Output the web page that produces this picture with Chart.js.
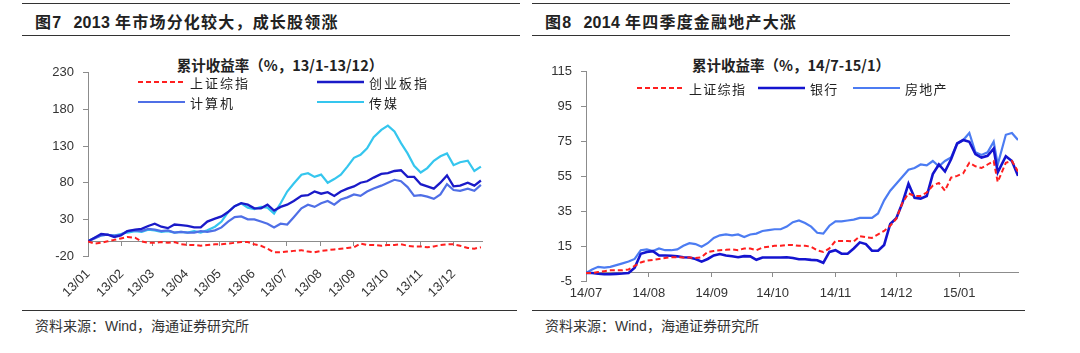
<!DOCTYPE html>
<html>
<head>
<meta charset="utf-8">
<script src="https://cdn.jsdelivr.net/npm/chart.js@4.4.1/dist/chart.umd.min.js"></script>
<style>
  body { margin: 0; width: 1080px; height: 353px; background: #fff; position: relative; overflow: hidden;
         font-family: "Noto Sans CJK SC", sans-serif; color: #222; }
  .rule { position: absolute; border-top: 1.3px solid #333; height: 0; }
  .head { position: absolute; top: 9px; font-size: 16px; font-weight: bold; white-space: nowrap; letter-spacing: 1.2px; }
  .head b { font-family: Arial, "Liberation Sans", sans-serif; letter-spacing: 0.3px; }
  .head .gap { display: inline-block; width: 12px; }
  .ctitle { position: absolute; top: 54px; font-size: 14.5px; font-weight: bold; transform: translateX(-50%); white-space: nowrap; }
  .src { position: absolute; top: 315px; font-size: 14px; white-space: nowrap; color: #333; }
  .src i { font-style: normal; font-family: Arial, "Liberation Sans", sans-serif; }
  .lg { position: absolute; display: flex; align-items: center; height: 16px; font-size: 13px; white-space: nowrap; color: #222; }
  .lg span { margin-left: 5px; }
  canvas { position: absolute; }
</style>
</head>
<body>
<div class="rule" style="left:22px;top:3px;width:498px"></div>
<div class="rule" style="left:22px;top:35px;width:498px"></div>
<div class="rule" style="left:532px;top:3px;width:478px"></div>
<div class="rule" style="left:532px;top:35px;width:478px"></div>
<div class="rule" style="left:22px;top:310px;width:495px"></div>
<div class="rule" style="left:532px;top:310px;width:493px"></div>

<div class="head" style="left:35px">图<b>7</b><span class="gap"></span><b>2013</b> 年市场分化较大，成长股领涨</div>
<div class="head" style="left:545px">图<b>8</b><span class="gap"></span><b>2014</b> 年四季度金融地产大涨</div>

<div class="ctitle" style="left:280px">累计收益率（%，13/1-13/12）</div>
<div class="ctitle" style="left:791px">累计收益率（%，14/7-15/1）</div>

<div class="src" style="left:35px">资料来源：<i>Wind</i>，海通证券研究所</div>
<div class="src" style="left:545px">资料来源：<i>Wind</i>，海通证券研究所</div>

<canvas id="chartA" width="460" height="250" style="left:40px;top:56px"></canvas>
<canvas id="chartB" width="490" height="250" style="left:540px;top:55px"></canvas>

<script>
// ---- 图7: 2013, day offset from 2013-01-01 ----
const daysA = [0,6,12,18,24,30,36,43,49,55,61,67,73,79,85,91,97,103,109,116,122,128,134,140,146,152,158,164,170,176,
  182,188,195,201,207,213,219,225,231,237,243,249,255,261,268,274,280,286,292,298,304,310,316,322,328,334,340,347,353,359];
const monthTicksA = [0,31,59,90,120,151,181,212,243,273,304,334];
const monthLabelsA = ['13/01','13/02','13/03','13/04','13/05','13/06','13/07','13/08','13/09','13/10','13/11','13/12'];
const namesA = ['上证综指','创业板指','计算机','传媒'];
const shA  = [0,-3,-2,0,2,4,6,5,0,-2, -2,-1,-2,-1,-4,-5,-5,-6,-5,-4, -4,-3,-2,-1,-1,-4,-6,-10,-15,-15,
  -14,-13,-12,-14,-15,-13,-12,-11,-10,-9, -8,-3,-5,-5,-6,-5,-5,-4,-6,-7, -7,-8,-7,-5,-4,-4,-6,-9,-10,-8];
const cybA = [0,5,10,9,6,8,14,16,17,21, 24,20,18,23,22,21,19,19,27,31, 34,40,48,52,50,45,45,50,42,47,
  50,55,62,63,68,65,67,62,68,72, 75,80,82,87,92,93,96,97,88,88, 78,75,72,80,90,75,76,80,76,83];
const jsjA = [0,4,8,9,8,9,14,15,14,17, 16,14,15,12,13,12,12,14,13,15, 19,27,33,34,30,30,27,24,19,24,
  23,33,45,50,47,52,55,50,57,60, 64,62,68,72,76,80,84,82,74,62, 63,61,58,64,78,70,69,72,69,77];
const cmA  = [0,5,8,9,8,10,12,14,13,16, 15,13,14,12,13,12,14,12,15,20, 27,40,48,52,46,44,47,46,38,52,
  68,79,91,93,88,91,80,85,91,102, 114,118,127,142,152,158,150,134,120,103, 94,100,110,116,120,104,108,110,96,102];

// ---- 图8: 2014/07-2015/01, day offset from 2014-07-01 ----
const daysB = [0,3,6,9,12,15,18,21,24,27,30,33,36,39,42,45,48,51,54,57,60,63,66,69,72,75,78,81,84,87,90,93,96,99,102,
  105,108,111,114,117,120,123,126,129,132,135,138,141,144,147,150,153,156,159,162,165,168,171,174,177,180,183,186,189,
  192,195,198,201,203,207,210,213];
const monthTicksB = [0,31,62,92,123,153,184];
const monthLabelsB = ['14/07','14/08','14/09','14/10','14/11','14/12','15/01'];
const namesB = ['上证综指','银行','房地产'];
const shB  = [0,0,0.5,1,1.5,1.5,1.5,2,4,6, 7,7.5,8,8.5,9,9,8.8,8.8,8.5,9, 12,12.5,13,13.2,13.5,13,14,14,13,14.5,
  15,15.5,15.5,16,16,15.5,15.5,15,13,12, 14,18.3,18.3,18.3,18,21,20.5,20,22,24, 27,31,40,45.5,44,44,46,50,51.5,47,
  54.5,55.5,57,63,61,60,62,64,52,63, 64,58];
const yhB  = [0,0,-0.5,-0.7,-0.7,-0.5,-0.3,0,3,11, 12,12.5,10,10,9.8,9.5,9,8.8,8,6.5, 8,10,10.8,10,9.5,9,9.6,9.5,7.5,8.8,
  8.8,8.8,8.8,9,8.5,7.8,7.8,7.5,7.3,5.8, 12,13,11,11,14,17.5,16.5,12.7,12.7,16, 28,31.3,40,51,43,42.5,44,56.5,62,58,
  65,74,76,75,68,66,67,71,57.5,66.7, 64,55.5];
const fdcB = [0,2,3.5,3,3.5,4.5,5.5,6.5,8,13, 13.5,12.5,14,13,13,13.5,15.5,17,16.5,15, 17,20,21.5,22,21.5,22,20.5,22,22.5,24,
  24.5,25,25,26.5,29,30,28.5,26.5,23,22.5, 27,29.5,29.5,30,30.5,31.5,31.5,31.5,34,41.5, 47,51,55,59,60,62,61.5,64,61,64,
  66,74,76,80,69,67.5,69,75,62,79, 80,76];

Chart.defaults.font.family = 'Arial, "Liberation Sans", sans-serif';
Chart.defaults.font.size = 13;
Chart.defaults.color = '#333';
Chart.defaults.animation = false;

const pts = (xs, ys) => xs.map((x, i) => ({ x: x, y: ys[i] }));
const axisGrey = '#8c8c8c';

function lineSet(label, xs, ys, color, width, dash) {
  return { label: label, data: pts(xs, ys), borderColor: color, backgroundColor: color,
           borderWidth: width, borderDash: dash || [], pointRadius: 0, tension: 0, fill: false };
}

const chartA = new Chart(document.getElementById('chartA'), {
  type: 'line',
  data: {
    datasets: [
      lineSet(namesA[0], daysA, shA, '#ff1f1f', 2, [5, 3]),
      lineSet(namesA[1], daysA, cybA, '#1a1ac8', 2.3),
      lineSet(namesA[2], daysA, jsjA, '#4f6fe6', 2.2),
      lineSet(namesA[3], daysA, cmA, '#35c6ee', 2.2)
    ]
  },
  options: {
    responsive: false,
    layout: { padding: { top: 13.4, right: 18, bottom: 50, left: 0 } },
    plugins: { legend: { display: false }, tooltip: { enabled: false } },
    scales: {
      x: {
        type: 'linear', min: 0, max: 360, position: { y: 0 },
        afterBuildTicks: s => { s.ticks = monthTicksA.map(v => ({ value: v })); },
        ticks: { callback: (v, i) => monthLabelsA[i], minRotation: 45, maxRotation: 45, padding: 21, autoSkip: false },
        grid: { drawOnChartArea: false, tickLength: 4, tickColor: axisGrey },
        border: { color: axisGrey }
      },
      y: {
        min: -20, max: 230,
        ticks: { stepSize: 50, padding: 9 },
        afterFit: s => { s.width = 48; },
        grid: { drawOnChartArea: false, tickLength: 5, tickColor: axisGrey },
        border: { color: axisGrey }
      }
    }
  }
});

const chartB = new Chart(document.getElementById('chartB'), {
  type: 'line',
  data: {
    datasets: [
      lineSet(namesB[0], daysB, shB, '#ff1f1f', 2, [5, 3]),
      lineSet(namesB[1], daysB, yhB, '#1414cf', 2.6),
      lineSet(namesB[2], daysB, fdcB, '#4c7cf2', 2.2)
    ]
  },
  options: {
    responsive: false,
    layout: { padding: { top: 11, right: 12, bottom: 23.3, left: 0 } },
    plugins: { legend: { display: false }, tooltip: { enabled: false } },
    scales: {
      x: {
        type: 'linear', min: 0, max: 213, position: { y: 0 },
        afterBuildTicks: s => { s.ticks = monthTicksB.map(v => ({ value: v })); },
        ticks: { callback: (v, i) => monthLabelsB[i], maxRotation: 0, padding: 9, autoSkip: false },
        grid: { drawOnChartArea: false, tickLength: 4, tickColor: axisGrey },
        border: { color: axisGrey }
      },
      y: {
        min: -5, max: 115,
        ticks: { stepSize: 20, padding: 9 },
        afterFit: s => { s.width = 46; },
        grid: { drawOnChartArea: false, tickLength: 5, tickColor: axisGrey },
        border: { color: axisGrey }
      }
    }
  }
});

// legends built from the datasets
function addLegend(chart, spots, spacing) {
  chart.data.datasets.forEach((ds, i) => {
    const d = document.createElement('div');
    d.className = 'lg';
    d.style.left = spots[i][0] + 'px';
    d.style.top = spots[i][1] + 'px';
    d.style.letterSpacing = spacing + 'px';
    const dash = ds.borderDash.length ? ' stroke-dasharray="' + ds.borderDash.join(',') + '"' : '';
    d.innerHTML = '<svg width="47" height="16"><line x1="0" y1="8" x2="47" y2="8" stroke="' + ds.borderColor +
      '" stroke-width="' + ds.borderWidth + '"' + dash + '/></svg><span>' + ds.label + '</span>';
    document.body.appendChild(d);
  });
}
addLegend(chartA, [[138, 74], [317, 74], [138, 94], [317, 94]], 2);
addLegend(chartB, [[637, 80], [758, 80], [853, 80]], 1.3);
</script>
</body>
</html>
